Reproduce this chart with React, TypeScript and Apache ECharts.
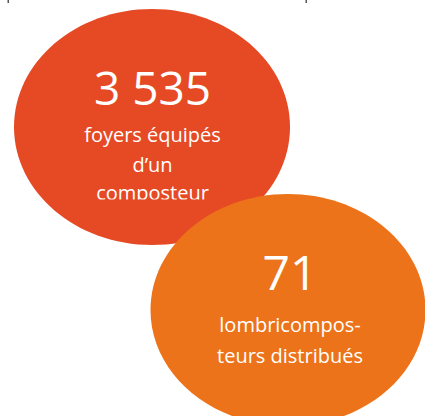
import React, { useEffect, useRef } from "react";
import * as echarts from "echarts";

const bubbleValues = ["3 535", "71"];
const bubbleLabels = [
  ["foyers équipés", "d’un", "composteur"],
  ["lombricompos-", "teurs distribués"],
];
const bubbleColors = ["#E64A25", "#EC7319"];

export default function App() {
  const ref = useRef<HTMLDivElement>(null);
  useEffect(() => {
    const chart = echarts.init(ref.current!, null, { renderer: "svg" });
    const font = "'Open Sans', sans-serif";
    const layout = [
      { cx: 152, cy: 127, rx: 138, ry: 118, textX: 152.5, valueY: 87, valueSize: 46, lineYs: [134, 164, 192], clip: { x: 80, y: 199.5, w: 150, h: 12 } },
      { cx: 288, cy: 310, rx: 137.5, ry: 116, textX: 290, valueY: 271, valueSize: 48, lineYs: [324, 355], clip: null as any },
    ];
    const elements: any[] = [];
    layout.forEach((l, i) => {
      const base = i * 10;
      elements.push({
        type: "ellipse",
        shape: { cx: l.cx, cy: l.cy, rx: l.rx, ry: l.ry },
        style: { fill: bubbleColors[i] },
        z: base + 1,
      });
      elements.push({
        type: "text",
        x: l.textX,
        y: l.valueY,
        z: base + 2,
        style: {
          text: bubbleValues[i],
          fill: "#ffffff",
          font: `${l.valueSize}px ${font}`,
          textAlign: "center",
          textVerticalAlign: "middle",
        },
      });
      bubbleLabels[i].forEach((t, j) => {
        elements.push({
          type: "text",
          x: l.textX,
          y: l.lineYs[j],
          z: base + 2,
          style: {
            text: t,
            fill: "#ffffff",
            font: `20px ${font}`,
            textAlign: "center",
            textVerticalAlign: "middle",
          },
        });
      });
      if (l.clip) {
        elements.push({
          type: "rect",
          shape: { x: l.clip.x, y: l.clip.y, width: l.clip.w, height: l.clip.h },
          style: { fill: bubbleColors[i] },
          z: base + 3,
        });
      }
    });
    // tiny fragments of cut-off text at the top edge
    elements.push({ type: "rect", shape: { x: 7.5, y: 0, width: 1.5, height: 3 }, style: { fill: "#555555" }, z: 30 });
    elements.push({ type: "rect", shape: { x: 305.5, y: 0, width: 1.5, height: 3 }, style: { fill: "#555555" }, z: 30 });

    chart.setOption({
      animation: false,
      backgroundColor: "#ffffff",
      graphic: elements,
    });
    return () => chart.dispose();
  }, []);
  return (
    <div
      ref={ref}
      style={{ position: "fixed", left: 0, top: 0, width: 425, height: 416 }}
    />
  );
}
